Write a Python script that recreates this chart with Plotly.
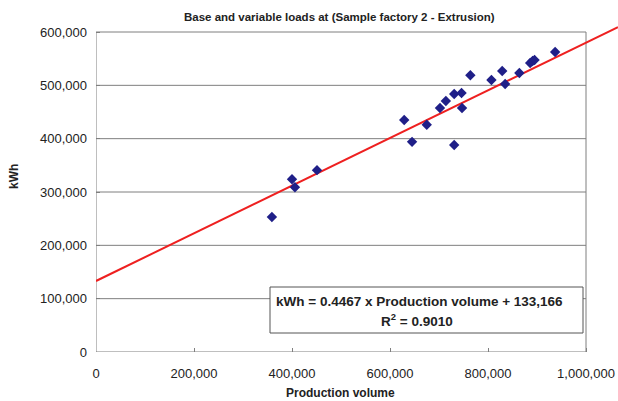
import plotly.graph_objects as go

# ---- data ----
production_volume = [359000, 400000, 406000, 451000, 629000, 645000, 675000, 702000,
                     714000, 731000, 746000, 747000, 731000, 764000, 807000, 829000,
                     835000, 864000, 886000, 891000, 895000, 937000]
kwh = [253000, 324000, 309000, 341000, 435000, 394000, 426000, 457500,
       470600, 483700, 485600, 457500, 388000, 519000, 510000, 527000,
       502500, 523000, 542000, 545600, 547500, 562500]
slope = 0.4467
intercept = 133166
r2 = 0.9010
x_ticks = [0, 200000, 400000, 600000, 800000, 1000000]
y_ticks = [0, 100000, 200000, 300000, 400000, 500000, 600000]

# ---- layout constants ----
W, H = 618, 401
L, R = 96, 0
PX_X0, PX_X1M = 96, 586      # pixel of x=0 and x=1,000,000
PX_Y0, PX_Y600 = 352, 32     # pixel of y=0 and y=600,000
x_per_px = 1e6 / (PX_X1M - PX_X0)
y_per_px = 600000 / (PX_Y0 - PX_Y600)
x_max = (W - R - L) * x_per_px
T = 22
y_max = (PX_Y0 - T) * y_per_px
B = H - PX_Y0


def dx(px):
    return (px - PX_X0) * x_per_px


def dy(py):
    return (PX_Y0 - py) * y_per_px


font_family = "Liberation Sans, Arial, sans-serif"
txt = "#222222"
grid_col = "#7f7f7f"

fig = go.Figure()

# trend line
line_x = [0, x_max]
line_y = [intercept + slope * v for v in line_x]
fig.add_trace(go.Scatter(x=line_x, y=line_y, mode="lines",
                         line=dict(color="#ee2020", width=2), hoverinfo="skip"))

# data
fig.add_trace(go.Scatter(x=production_volume, y=kwh, mode="markers",
                         marker=dict(symbol="diamond", size=8, color="#1f1f88",
                                     line=dict(width=0))))

shapes = []
for yv in y_ticks[1:-1]:
    shapes.append(dict(type="line", xref="x", yref="y", x0=0, x1=x_ticks[-1],
                       y0=yv, y1=yv, line=dict(color=grid_col, width=1), layer="below"))
shapes.append(dict(type="rect", xref="x", yref="y", x0=0, x1=x_ticks[-1],
                   y0=0, y1=y_ticks[-1], line=dict(color=grid_col, width=1), layer="below"))
# equation box
shapes.append(dict(type="rect", xref="x", yref="y", x0=dx(270), x1=dx(583),
                   y0=dy(333), y1=dy(287), fillcolor="white",
                   line=dict(color="#555555", width=1), layer="below"))

fig.update_layout(
    width=W, height=H,
    margin=dict(l=L, r=R, t=T, b=B),
    paper_bgcolor="white", plot_bgcolor="white",
    showlegend=False,
    font=dict(family=font_family, size=13, color=txt),
    shapes=shapes,
    xaxis=dict(range=[0, x_max], tickvals=x_ticks,
               ticktext=[f"{v:,}" for v in x_ticks],
               showgrid=False, zeroline=False, showline=False,
               ticks="inside", ticklen=4, tickcolor=grid_col,
               ticklabelstandoff=12, tickfont=dict(size=13, color=txt)),
    yaxis=dict(range=[0, y_max], tickvals=y_ticks,
               ticktext=[f"{v:,}" for v in y_ticks],
               showgrid=False, zeroline=False, showline=False,
               ticks="inside", ticklen=4, tickcolor=grid_col,
               ticklabelstandoff=8, tickfont=dict(size=13, color=txt)),
    annotations=[
        dict(text="<b>Base and variable loads at (Sample factory 2 - Extrusion)</b>",
             xref="paper", yref="paper", x=(339 - L) / (W - L - R), y=1,
             yanchor="middle", yshift=(T - 17), xanchor="center", showarrow=False,
             font=dict(size=11.5, color=txt)),
        dict(text="<b>kWh</b>", xref="paper", yref="paper", x=0, xshift=14 - L,
             y=(PX_Y0 - 177) / (PX_Y0 - T), textangle=-90, showarrow=False,
             xanchor="center", yanchor="middle", font=dict(size=12, color=txt)),
        dict(text="<b>Production volume</b>", xref="paper", yref="paper",
             x=(340 - L) / (W - L - R), y=0, yshift=-(393 - PX_Y0),
             xanchor="center", yanchor="middle", showarrow=False,
             font=dict(size=12, color=txt)),
        dict(text=f"<b>kWh = {slope:.4f} x Production volume + {intercept:,}</b>",
             xref="x", yref="y", x=dx(419), y=dy(301), showarrow=False,
             xanchor="center", yanchor="middle", font=dict(size=13.5, color=txt)),
        dict(text=f"<b>R<sup>2</sup> = {r2:.4f}</b>",
             xref="x", yref="y", x=dx(417), y=dy(320), showarrow=False,
             xanchor="center", yanchor="middle", font=dict(size=13.5, color=txt)),
    ],
)

fig.write_html("out.html")
